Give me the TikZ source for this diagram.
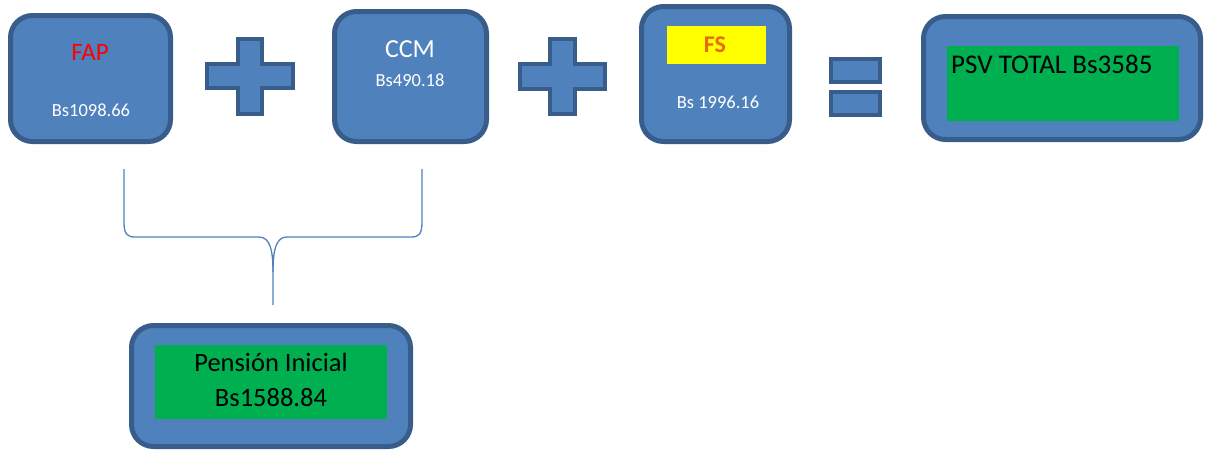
\documentclass[tikz,border=0pt]{standalone}
\usepackage{fontspec}
\setmainfont{Carlito}
\definecolor{boxfill}{HTML}{4F81BD}
\definecolor{boxline}{HTML}{385D8A}
\definecolor{grn}{HTML}{00B050}
\definecolor{ylw}{HTML}{FFFF00}
\definecolor{fsorange}{HTML}{E46C0A}
\begin{document}
\begin{tikzpicture}[x=1pt,y=-1pt,
  bluebox/.style={draw=boxline,fill=boxfill,line width=5pt,rounded corners=22pt,inner sep=0pt},
  sign/.style={draw=boxline,fill=boxfill,line width=4pt},
  greenbox/.style={fill=grn,inner sep=0pt},
  wtext/.style={text=white,inner sep=0pt},
  bracepath/.style={draw=boxfill,line width=1.3pt}]
\useasboundingbox (0,0) rectangle (1205,450);
% boxes
\node[bluebox,minimum width=160pt,minimum height=126pt] (fap) at (90.5,78.5) {};
\node[bluebox,minimum width=152pt,minimum height=130pt] (ccm) at (410.5,76.5) {};
\node[bluebox,minimum width=148pt,minimum height=135pt] (fs) at (715.5,74) {};
\node[bluebox,minimum width=277pt,minimum height=123pt] (psv) at (1062,78) {};
\node[bluebox,minimum width=279pt,minimum height=121pt] (pen) at (271,386) {};
% texts
\node[text=red,inner sep=0pt,font=\fontsize{25}{30}\selectfont] (faplbl) at (90,52) {FAP};
\node[wtext,font=\fontsize{18.5}{22}\selectfont] (fapval) at (91,110) {Bs1098.66};
\node[wtext,font=\fontsize{26}{30}\selectfont] (ccmlbl) at (410,49) {CCM};
\node[wtext,font=\fontsize{18.5}{22}\selectfont] (ccmval) at (410,80) {Bs490.18};
\node[fill=ylw,inner sep=0pt,minimum width=99pt,minimum height=38pt] (fsy) at (716.5,45) {};
\node[text=fsorange,inner sep=0pt,font=\bfseries\fontsize{24}{28}\selectfont] (fslbl) at (715,45) {FS};
\node[wtext,font=\fontsize{18.5}{22}\selectfont] (fsval) at (718,102) {Bs 1996.16};
\node[greenbox,minimum width=232pt,minimum height=75pt] (psvg) at (1063,83.5) {};
\node[anchor=west,inner sep=0pt,font=\fontsize{27}{32}\selectfont] (psvlbl) at (951,64) {PSV TOTAL Bs3585};
\node[greenbox,minimum width=232pt,minimum height=74pt] (peng) at (271,382) {};
\node[inner sep=0pt,font=\fontsize{26.5}{30}\selectfont] (penl1) at (271,362) {Pensión Inicial};
\node[inner sep=0pt,font=\fontsize{26.5}{30}\selectfont] (penl2) at (271,398) {Bs1588.84};
% plus signs
\draw[sign] (238,39) -- (262,39) -- (262,64) -- (293,64) -- (293,88) -- (262,88) -- (262,114) -- (238,114) -- (238,88) -- (207,88) -- (207,64) -- (238,64) -- cycle;
\draw[sign] (550,39) -- (575,39) -- (575,64) -- (605,64) -- (605,89) -- (575,89) -- (575,114) -- (550,114) -- (550,89) -- (520,89) -- (520,64) -- (550,64) -- cycle;
% equals
\draw[sign] (831,59) rectangle (880,82);
\draw[sign] (831,92) rectangle (880,115);
% brace
\coordinate (bl) at (124,169);
\coordinate (br) at (422,169);
\coordinate (bt) at (273,305);
\draw[bracepath] (bl) -- (124,222) .. controls (124,234) and (127,237) .. (135,237)
  -- (259,237) .. controls (270,237) and (273,250) .. (273,272) -- (bt);
\draw[bracepath] (br) -- (422,222) .. controls (422,234) and (419,237) .. (411,237)
  -- (287,237) .. controls (276,237) and (273,250) .. (273,272);
\end{tikzpicture}
\end{document}
